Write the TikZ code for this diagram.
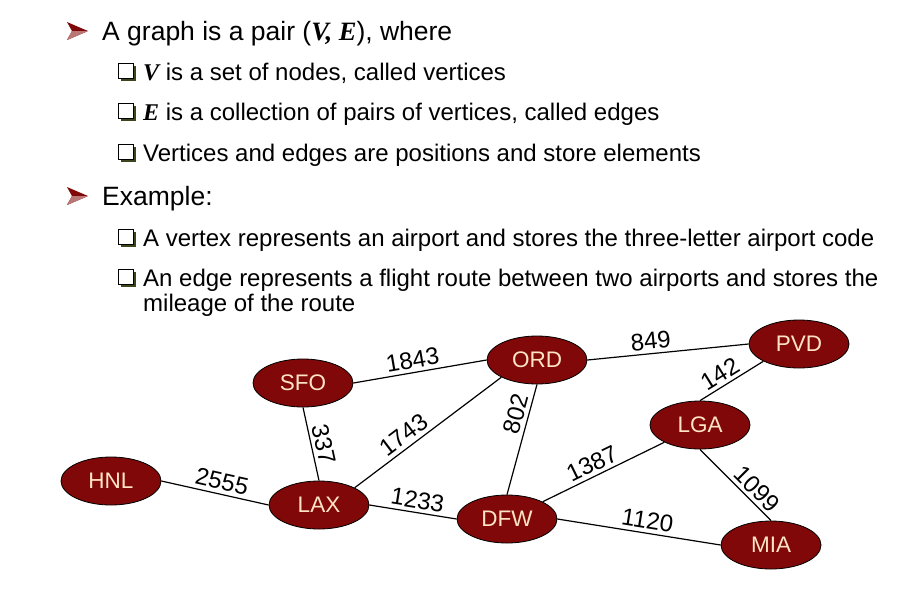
\documentclass[tikz,border=0pt]{standalone}
\usepackage{fontspec}
\setmainfont{Liberation Sans}
\newfontfamily\serifbi{Liberation Serif}
\usetikzlibrary{shapes.geometric}

\definecolor{airport}{RGB}{128,8,8}
\definecolor{codetext}{RGB}{255,228,196}
\definecolor{boxshade}{RGB}{60,70,30}

\newcommand{\arrowbullet}[2]{%
  \fill[airport] (#1-2,#2-9) -- (#1+19,#2) -- (#1-2,#2+9) -- (#1+3,#2) -- cycle;
  \fill[airport!55!white] (#1+3,#2) -- (#1+19,#2) -- (#1-2,#2+9) -- cycle;}
\newcommand{\boxbullet}[2]{%
  \fill[boxshade] (#1+3,#2-5) rectangle (#1+18,#2+10);
  \filldraw[fill=white, draw=black, line width=1pt] (#1,#2-8) rectangle (#1+15,#2+7);}
\newcommand{\VE}[1]{{\serifbi\bfseries\itshape #1}}

\begin{document}
\begin{tikzpicture}[x=1pt, y=-1pt,
  vertex/.style={ellipse, draw=black, line width=0.8pt, fill=airport,
    minimum width=100pt, minimum height=48pt, inner sep=0pt,
    text=codetext, font=\fontsize{22.5}{22.5}\selectfont},
  route/.style={line width=1.2pt},
  miles/.style={sloped, above, inner sep=3.5pt, font=\fontsize{24}{24}\selectfont},
  main/.style={anchor=base west, inner sep=0pt, font=\fontsize{26.5}{26.5}\selectfont},
  sub/.style={anchor=base west, inner sep=0pt, font=\fontsize{24}{24}\selectfont}]
\useasboundingbox (0,0) rectangle (912,614);

% bullet list
\arrowbullet{69}{31}
\node[main] (l1) at (102,40) {A graph is a pair (\VE{V, E}), where};
\boxbullet{118}{71}
\node[sub] (l2) at (143,80) {\VE{V} is a set of nodes, called vertices};
\boxbullet{118}{111}
\node[sub] (l3) at (143,120) {\VE{E} is a collection of pairs of vertices, called edges};
\boxbullet{118}{152}
\node[sub] (l4) at (143,161) {Vertices and edges are positions and store elements};
\arrowbullet{69}{196}
\node[main] (l5) at (102,205) {Example:};
\boxbullet{118}{237}
\node[sub] (l6) at (143,246) {A vertex represents an airport and stores the three-letter airport code};
\boxbullet{118}{277}
\node[sub] (l7) at (143,286) {An edge represents a flight route between two airports and stores the};
\node[sub] (l8) at (143,311) {mileage of the route};

% airports
\node[vertex] (SFO) at (303,383) {SFO};
\node[vertex] (ORD) at (537,360) {ORD};
\node[vertex] (PVD) at (799,344) {PVD};
\node[vertex] (LGA) at (700,425) {LGA};
\node[vertex] (HNL) at (111,481) {HNL};
\node[vertex] (LAX) at (319,505) {LAX};
\node[vertex] (DFW) at (507,519) {DFW};
\node[vertex] (MIA) at (771,545) {MIA};

% routes
\draw[route] (SFO.east) -- node[miles, pos=0.46] {1843} (ORD.west);
\draw[route] (ORD.east) -- node[miles, pos=0.4] {849} (PVD.west);
\draw[route] (LGA.north) -- node[miles, pos=0.42] {142} (PVD.south west);
\draw[route] (SFO.south) -- node[miles, pos=0.54] {337} (LAX.north);
\draw[route] (LAX.north east) -- node[miles, pos=0.385] {1743} (ORD.south west);
\draw[route] (DFW.north) -- node[miles, pos=0.7] {802} (ORD.south);
\draw[route] (HNL.east) -- node[miles, pos=0.54] {2555} (LAX.west);
\draw[route] (LAX.east) -- node[miles, pos=0.53] {1233} (DFW.west);
\draw[route] (DFW.north east) -- node[miles, pos=0.45] {1387} (LGA.south west);
\draw[route] (LGA.south) -- node[miles, pos=0.68] {1099} (MIA.north);
\draw[route] (DFW.east) -- node[miles, pos=0.54] {1120} (MIA.west);
\end{tikzpicture}
\end{document}
